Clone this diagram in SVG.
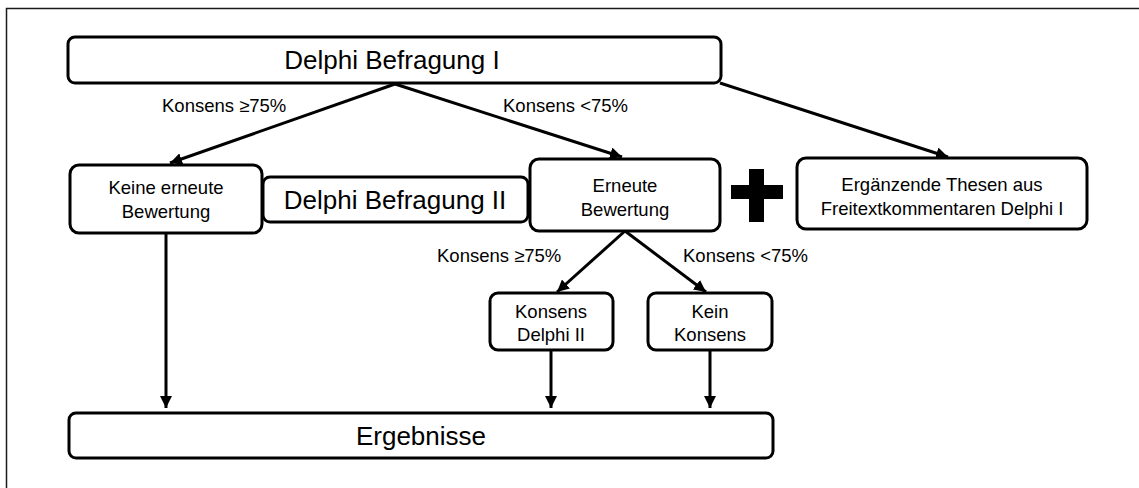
<svg xmlns="http://www.w3.org/2000/svg" width="1139" height="488" viewBox="0 0 1139 488">
  <style>
    .box { fill: #ffffff; stroke: #000000; stroke-width: 3; }
    .big { font-family: "Liberation Sans", Arial, sans-serif; font-size: 26px; fill: #000000; text-anchor: middle; }
    .small { font-family: "Liberation Sans", Arial, sans-serif; font-size: 18.5px; fill: #000000; text-anchor: middle; }
    .lbl { font-family: "Liberation Sans", Arial, sans-serif; font-size: 18.5px; fill: #000000; text-anchor: start; }
    .conn { fill: none; stroke: #000000; stroke-width: 3; marker-end: url(#arrow); }
  </style>
  <defs>
    <marker id="arrow" markerUnits="userSpaceOnUse" markerWidth="12" markerHeight="12" refX="12" refY="6" orient="auto">
      <path d="M0,0 L12,6 L0,12 z" fill="#000000"/>
    </marker>
  </defs>

  <rect width="1139" height="488" fill="#ffffff"/>
  <!-- outer frame, open to the right and bottom -->
  <rect x="6.5" y="8.5" width="1200" height="600" fill="none" stroke="#1a1a1a" stroke-width="1.5"/>

  <g id="connectors">
    <line class="conn" x1="395" y1="84" x2="170" y2="163"/>
    <line class="conn" x1="395" y1="84" x2="622" y2="157"/>
    <line class="conn" x1="720" y1="83" x2="948" y2="157"/>
    <line class="conn" x1="625" y1="231" x2="557" y2="292"/>
    <line class="conn" x1="625" y1="231" x2="706" y2="292"/>
    <line class="conn" x1="166" y1="233" x2="166" y2="408"/>
    <line class="conn" x1="551" y1="350" x2="551" y2="408"/>
    <line class="conn" x1="710" y1="350" x2="710" y2="408"/>
    <text class="lbl" x="162" y="112">Konsens ≥75%</text>
    <text class="lbl" x="503" y="112">Konsens &lt;75%</text>
    <text class="lbl" x="437" y="262">Konsens ≥75%</text>
    <text class="lbl" x="683" y="262">Konsens &lt;75%</text>
  </g>

  <g id="delphi1">
    <rect class="box" x="68" y="37" width="653" height="46" rx="7"/>
    <text class="big" x="392" y="69">Delphi Befragung I</text>
  </g>

  <g id="keine">
    <rect class="box" x="70" y="165" width="192" height="68" rx="9"/>
    <text class="small" x="166" y="194">Keine erneute</text>
    <text class="small" x="166" y="218">Bewertung</text>
  </g>

  <g id="delphi2">
    <rect class="box" x="263" y="177" width="265" height="45" rx="7"/>
    <text class="big" x="395" y="209">Delphi Befragung II</text>
  </g>

  <g id="erneute">
    <rect class="box" x="530" y="159" width="190" height="72" rx="9"/>
    <text class="small" x="625" y="192">Erneute</text>
    <text class="small" x="625" y="216">Bewertung</text>
  </g>

  <!-- solid plus sign between the two boxes -->
  <g id="plus">
    <rect x="749" y="169" width="15" height="53" fill="#000000"/>
    <rect x="731" y="185" width="52" height="14" fill="#000000"/>
  </g>

  <g id="ergaenzende">
    <rect class="box" x="797" y="158" width="290" height="71" rx="9"/>
    <text class="small" x="942" y="191">Ergänzende Thesen aus</text>
    <text class="small" x="942" y="215">Freitextkommentaren Delphi I</text>
  </g>

  <g id="konsens2">
    <rect class="box" x="490" y="293" width="123" height="57" rx="8"/>
    <text class="small" x="551" y="318">Konsens</text>
    <text class="small" x="551" y="341">Delphi II</text>
  </g>

  <g id="keinkonsens">
    <rect class="box" x="648" y="293" width="124" height="57" rx="8"/>
    <text class="small" x="710" y="318">Kein</text>
    <text class="small" x="710" y="341">Konsens</text>
  </g>

  <g id="ergebnisse">
    <rect class="box" x="69" y="413" width="704" height="45" rx="7"/>
    <text class="big" x="421" y="445">Ergebnisse</text>
  </g>
</svg>
